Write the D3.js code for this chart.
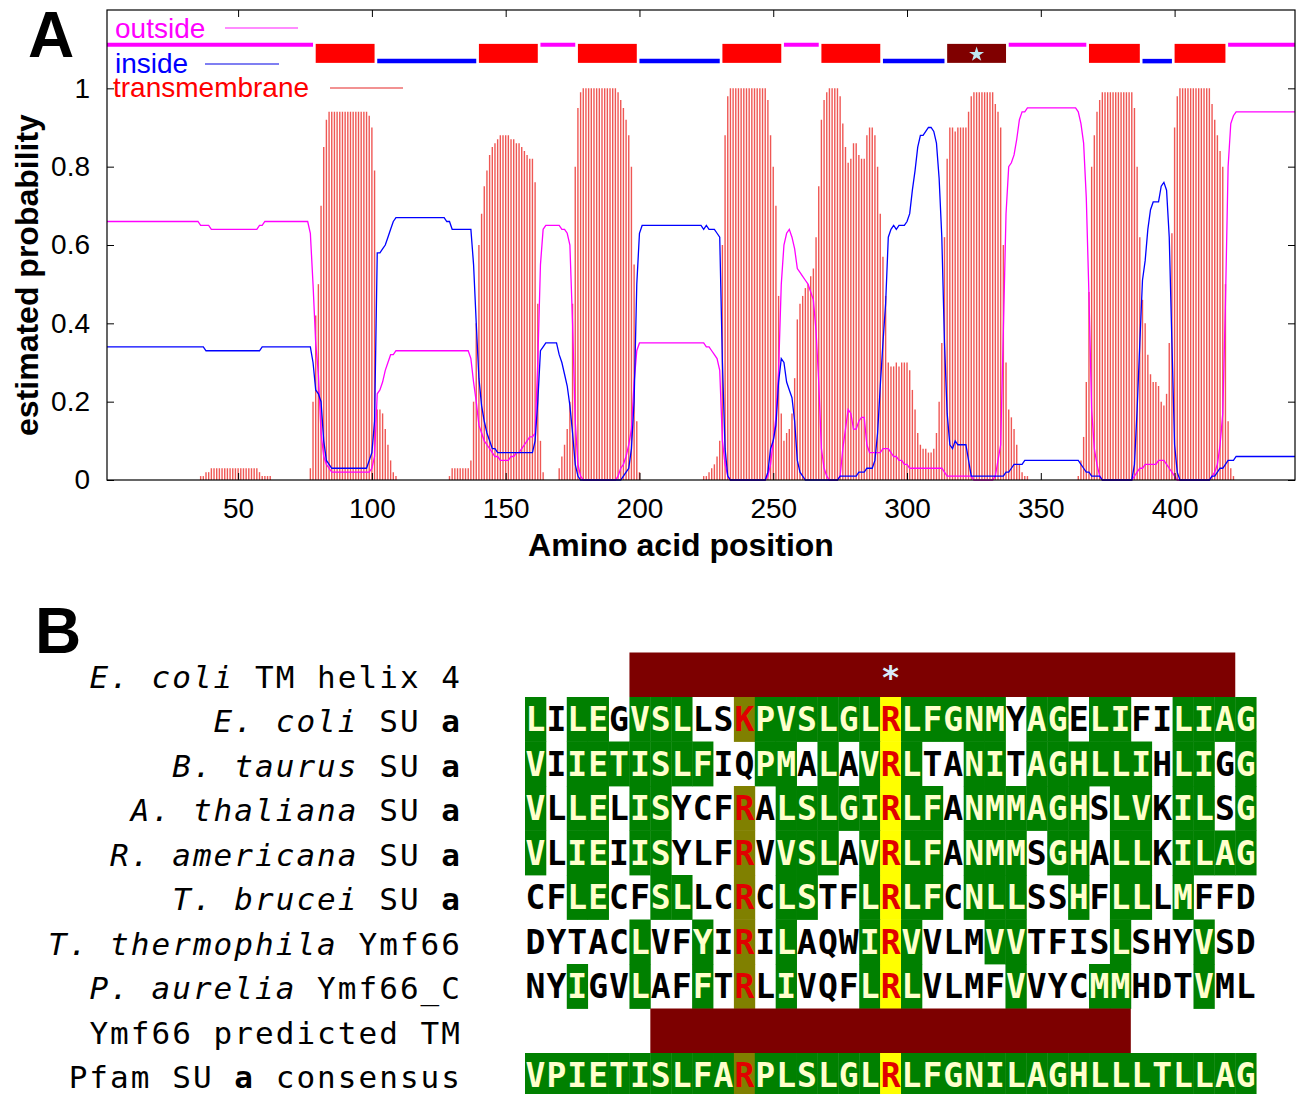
<!DOCTYPE html>
<html>
<head>
<meta charset="utf-8">
<script src="https://cdn.jsdelivr.net/npm/d3@7"></script>
<style>
  body { margin: 0; background: #fff; }
  svg { display: block; }
</style>
</head>
<body>
<div id="chart"></div>
<script>
// ── Panel A data: per-residue posterior probabilities (percent) ─────────────
const firstResidue = 1;

const tmProb = [
  0,0,0,0,0,0,0,0,0,0,          // 1-10
  0,0,0,0,0,0,0,0,0,0,
  0,0,0,0,0,0,0,0,0,0,
  0,0,0,0,0,1,1,2,2,3,
  3,3,3,3,3,3,3,3,3,3,
  3,3,3,3,3,3,3,2,1,1,          // 51-60
  1,1,0,0,0,0,0,0,0,0,
  0,0,0,0,0,0,3,20,42,50,
  70,85,92,94,94,94,94,94,94,94,
  94,94,94,94,94,94,94,94,93,90,
  79,18,18,17,13,9,5,2,1,0,     // 101-110
  0,0,0,0,0,0,0,0,0,0,
  0,0,0,0,0,0,0,0,1,3,
  3,3,3,3,3,3,5,20,40,60,
  68,75,79,83,85,86,87,88,88,88,
  88,87,87,86,86,85,84,83,82,82, // 151-160
  76,45,10,2,0,0,0,0,0,3,
  6,9,13,20,45,80,95,99,100,100,
  100,100,100,100,100,100,100,100,100,100,
  100,99,97,95,92,88,80,55,15,2,
  0,0,0,0,0,0,0,0,0,0,          // 201-210
  0,0,0,0,0,0,0,0,0,0,
  0,0,0,1,1,2,3,4,6,10,
  60,88,98,100,100,100,100,100,100,100,
  100,100,100,100,100,100,100,97,88,80,
  70,47,17,10,12,13,17,26,41,45, // 251-260
  47,49,50,52,54,62,75,92,97,99,
  100,100,100,100,98,91,85,81,82,86,
  86,83,82,82,88,90,90,88,80,68,
  57,47,30,29,29,30,29,30,30,30,
  28,23,18,12,9,8,8,7,7,8,      // 301-310
  12,20,35,62,82,90,90,89,90,90,
  90,90,94,98,99,99,99,99,99,99,
  99,99,96,94,90,60,30,18,16,13,
  9,4,2,1,1,0,0,0,0,0,
  0,0,0,0,0,0,0,0,0,0,          // 351-360
  0,0,0,1,5,11,25,48,80,88,
  94,97,99,99,99,99,99,99,99,99,
  99,99,99,99,95,80,62,46,40,32,
  27,25,25,24,20,19,22,35,63,90,
  98,100,100,100,100,100,100,100,100,100, // 401-410
  100,100,100,96,92,88,84,80,50,15,
  3,1,0,0,0,0,0,0,0,0,
  0,0,0,0,0,0,0,0,0,0,
  0,0,0,0,0
];

const outsideProb = [
  66,66,66,66,66,66,66,66,66,66,  // 1-10
  66,66,66,66,66,66,66,66,66,66,
  66,66,66,66,66,66,66,66,66,66,
  66,66,66,66,66,65,65,65,65,64,
  64,64,64,64,64,64,64,64,64,64,
  64,64,64,64,64,64,64,65,65,66,  // 51-60
  66,66,66,66,66,66,66,66,66,66,
  66,66,66,66,66,66,63,50,35,27,
  12,6,4,3,2,2,2,2,2,2,
  2,2,2,2,2,2,2,2,2,3,
  6,22,23,25,28,30,32,32,33,33,   // 101-110
  33,33,33,33,33,33,33,33,33,33,
  33,33,33,33,33,33,33,33,33,33,
  33,33,33,33,33,33,31,25,20,14,
  12,10,9,8,7,6,6,5,5,5,
  5,6,6,7,7,8,9,10,11,11,         // 151-160
  12,30,55,64,65,65,65,65,65,65,
  64,64,63,60,40,15,4,1,0,0,
  0,0,0,0,0,0,0,0,0,0,
  0,1,3,4,6,9,13,25,33,35,
  35,35,35,35,35,35,35,35,35,35,  // 201-210
  35,35,35,35,35,35,35,35,35,35,
  35,35,35,35,34,34,33,32,31,28,
  10,4,1,0,0,0,0,0,0,0,
  0,0,0,0,0,0,0,1,4,10,
  16,28,50,60,63,64,62,59,54,53,  // 251-260
  52,51,50,48,46,38,25,8,3,1,
  0,0,0,0,1,8,13,18,17,13,
  13,15,16,16,9,7,7,7,7,7,
  8,8,8,7,6,6,5,5,4,4,
  3,3,3,3,3,3,3,3,3,3,            // 301-310
  3,3,3,2,1,1,1,1,1,1,
  1,1,1,1,0,0,0,0,0,0,
  0,0,1,5,9,38,68,80,81,83,
  87,92,94,94,95,95,95,95,95,95,
  95,95,95,95,95,95,95,95,95,95,  // 351-360
  95,95,95,94,91,86,72,47,18,8,
  4,1,0,0,0,0,0,0,0,0,
  0,0,0,0,1,2,3,3,4,4,
  4,4,4,5,5,5,4,3,2,1,
  0,0,0,0,0,0,0,0,0,0,            // 401-410
  0,0,0,1,2,4,9,17,45,80,
  91,93,94,94,94,94,94,94,94,94,
  94,94,94,94,94,94,94,94,94,94,
  94,94,94,94,94
];

const insideProb = [
  34,34,34,34,34,34,34,34,34,34,  // 1-10
  34,34,34,34,34,34,34,34,34,34,
  34,34,34,34,34,34,34,34,34,34,
  34,34,34,34,34,34,34,33,33,33,
  33,33,33,33,33,33,33,33,33,33,
  33,33,33,33,33,33,33,33,34,34,  // 51-60
  34,34,34,34,34,34,34,34,34,34,
  34,34,34,34,34,34,34,30,23,22,
  20,10,5,4,3,3,3,3,3,3,
  3,3,3,3,3,3,3,3,5,7,
  15,58,58,59,60,62,64,66,67,67,  // 101-110
  67,67,67,67,67,67,67,67,67,67,
  67,67,67,67,67,67,67,66,66,64,
  64,64,64,64,64,64,64,55,40,26,
  19,15,12,10,8,8,7,7,7,7,
  7,7,7,7,7,7,7,7,7,7,            // 151-160
  10,20,33,34,35,35,35,35,35,32,
  30,27,24,19,12,4,1,0,0,0,
  0,0,0,0,0,0,0,0,0,0,
  0,0,0,1,2,3,8,20,50,63,
  65,65,65,65,65,65,65,65,65,65,  // 201-210
  65,65,65,65,65,65,65,65,65,65,
  65,65,65,64,65,64,64,64,63,62,
  30,8,1,0,0,0,0,0,0,0,
  0,0,0,0,0,0,0,2,8,10,
  14,25,31,30,25,23,21,15,5,2,    // 251-260
  1,0,0,0,0,0,0,0,0,0,
  0,0,0,0,1,1,1,1,1,1,
  1,2,2,2,3,3,3,5,12,24,
  35,45,62,64,65,64,65,65,65,66,
  68,74,79,85,88,88,89,90,90,89,  // 301-310
  86,77,62,35,17,9,8,10,9,9,
  9,9,5,1,1,1,1,1,1,1,
  1,1,1,1,1,1,2,2,3,4,
  4,4,4,5,5,5,5,5,5,5,
  5,5,5,5,5,5,5,5,5,5,            // 351-360
  5,5,5,5,4,3,2,2,1,1,
  1,1,0,0,0,0,0,0,0,0,
  0,0,0,0,4,18,35,51,56,64,
  69,71,71,71,75,76,74,62,35,9,
  2,0,0,0,0,0,0,0,0,0,            // 401-410
  0,0,0,1,1,2,3,3,4,5,
  5,5,6,6,6,6,6,6,6,6,
  6,6,6,6,6,6,6,6,6,6,
  6,6,6,6,6
];

// predicted topology: [kind, first residue, last residue]
const topology = [
  ["outside", 1, 78], ["tm", 79, 101], ["inside", 102, 139], ["tm", 140, 162],
  ["outside", 163, 176], ["tm", 177, 199], ["inside", 200, 230], ["tm", 231, 253],
  ["outside", 254, 267], ["tm", 268, 290], ["inside", 291, 314], ["tmStar", 315, 337],
  ["outside", 338, 367], ["tm", 368, 387], ["inside", 388, 399], ["tm", 400, 419],
  ["outside", 420, 445]
];

const xTicks = [50, 100, 150, 200, 250, 300, 350, 400];
const yTicks = [0, 0.2, 0.4, 0.6, 0.8, 1];
const legendLabels = ["outside", "inside", "transmembrane"];

// ── Panel B data ────────────────────────────────────────────────────────────
const rowLabels = [
  [["E. coli", "it"], [" TM helix 4", ""]],
  [["E. coli", "it"], [" SU ", ""], ["a", "b"]],
  [["B. taurus", "it"], [" SU ", ""], ["a", "b"]],
  [["A. thaliana", "it"], [" SU ", ""], ["a", "b"]],
  [["R. americana", "it"], [" SU ", ""], ["a", "b"]],
  [["T. brucei", "it"], [" SU ", ""], ["a", "b"]],
  [["T. thermophila", "it"], [" Ymf66", ""]],
  [["P. aurelia", "it"], [" Ymf66_C", ""]],
  [["Ymf66 predicted TM", ""]],
  [["Pfam SU ", ""], ["a", "b"], [" consensus", ""]]
];

const sequences = [
  null,
  "LILEGVSLLSKPVSLGLRLFGNMYAGELIFILIAG",
  "VIIETISLFIQPMALAVRLTANITAGHLLIHLIGG",
  "VLLELISYCFRALSLGIRLFANMMAGHSLVKILSG",
  "VLIEIISYLFRVVSLAVRLFANMMSGHALLKILAG",
  "CFLECFSLLCRCLSTFLRLFCNLLSSHFLLLMFFD",
  "DYTACLVFYIRILAQWIRVVLMVVTFISLSHYVSD",
  "NYIGVLAFFTRLIVQFLRLVLMFVVYCMMHDTVML",
  null,
  "VPIETISLFARPLSLGLRLFGNILAGHLLLTLLAG"
];

// g = conserved (green), w = white, o = aligned R column, y = invariant R
const shading = [
  null,
  "gwggwgggwwoggggggygggggwggwggwwgggg",
  "gwgggggggwwggwgwgygwwggwggggggwggwg",
  "gwggwggwwwowgggggyggwggggggwggwggwg",
  "gwggwggwwwowgggwgyggwgggwggwggwgggg",
  "wwggwwggwwowggwwgyggwgggwwgwggwgwww",
  "wwwwwgwwgwowgwwwgygwwwggwwwwgwwwgww",
  "wwgwwgwwgwowgwwwgygwwwwgwwwggwwwgww",
  null,
  "ggggggggggoggggggyggggggggggggggggg"
];

// TM bars: [row, first column, last column]
const helixBars = [[0, 5, 33], [8, 6, 28]];
const starColumn = 17;

// ── Setup ───────────────────────────────────────────────────────────────────
const W = 1296, H = 1094;
const sans = "'Liberation Sans', Arial, Helvetica, sans-serif";
const mono = "'DejaVu Sans Mono', monospace";

const svg = d3.select("#chart").append("svg").attr("width", W).attr("height", H);

// ── Panel A ─────────────────────────────────────────────────────────────────
const plot = { left: 107, right: 1295, top: 10, bottom: 480 };
const x = d3.scaleLinear().domain([firstResidue, firstResidue + tmProb.length - 1]).range([plot.left, plot.right]);
const y = d3.scaleLinear().domain([0, 1.2]).range([plot.bottom, plot.top]);

const residues = tmProb.map((t, i) => ({
  pos: firstResidue + i,
  tm: t / 100,
  outside: outsideProb[i] / 100,
  inside: insideProb[i] / 100
}));

const colors = { outside: "#ff00ff", inside: "#0000ff", tm: "#ff0000", tmDark: "#800000" };

const gA = svg.append("g");

// impulses
gA.append("g").selectAll("line")
  .data(residues.filter(d => d.tm > 0)).join("line")
  .attr("x1", d => x(d.pos)).attr("x2", d => x(d.pos))
  .attr("y1", y(0)).attr("y2", d => y(d.tm))
  .attr("stroke", "#ec3a36").attr("stroke-width", 1.4).attr("stroke-opacity", 0.85);

// probability curves
const curve = key => d3.line().x(d => x(d.pos)).y(d => y(d[key]));
gA.append("path").datum(residues).attr("d", curve("outside"))
  .attr("fill", "none").attr("stroke", colors.outside).attr("stroke-width", 1.3);
gA.append("path").datum(residues).attr("d", curve("inside"))
  .attr("fill", "none").attr("stroke", colors.inside).attr("stroke-width", 1.3);

// topology track
const track = gA.append("g");
topology.forEach(([kind, a, b]) => {
  if (kind === "outside") {
    track.append("line").attr("x1", x(a)).attr("x2", x(b)).attr("y1", y(1.111)).attr("y2", y(1.111))
      .attr("stroke", colors.outside).attr("stroke-width", 4);
  } else if (kind === "inside") {
    track.append("line").attr("x1", x(a)).attr("x2", x(b)).attr("y1", y(1.0695)).attr("y2", y(1.0695))
      .attr("stroke", colors.inside).attr("stroke-width", 4.5);
  } else {
    track.append("rect").attr("x", x(a)).attr("width", x(b) - x(a))
      .attr("y", y(1.1135)).attr("height", y(1.065) - y(1.1135))
      .attr("fill", kind === "tmStar" ? colors.tmDark : colors.tm);
    if (kind === "tmStar") {
      track.append("path").attr("d", d3.symbol(d3.symbolStar).size(70)())
        .attr("transform", `translate(${(x(a) + x(b)) / 2},${(y(1.1135) + y(1.065)) / 2 + 1})`)
        .attr("fill", "#bfe8f2");
    }
  }
});

// axes
const tickStyle = g => {
  g.select(".domain").remove();
  g.selectAll("line").attr("stroke", "#000");
  g.selectAll("text").attr("font-family", sans).attr("font-size", 28).attr("fill", "#000");
};
gA.append("g").attr("transform", `translate(0,${plot.bottom})`)
  .call(d3.axisBottom(x).tickValues(xTicks).tickSize(-7).tickPadding(18)).call(tickStyle);
gA.append("g").attr("transform", `translate(0,${plot.top})`)
  .call(d3.axisTop(x).tickValues(xTicks).tickSize(-7).tickFormat("")).call(tickStyle);
gA.append("g").attr("transform", `translate(${plot.left},0)`)
  .call(d3.axisLeft(y).tickValues(yTicks).tickSize(-7).tickPadding(17).tickFormat(d => String(d))).call(tickStyle);
gA.append("g").attr("transform", `translate(${plot.right},0)`)
  .call(d3.axisRight(y).tickValues(yTicks).tickSize(-7).tickFormat("")).call(tickStyle);

gA.append("rect").attr("x", plot.left).attr("y", plot.top)
  .attr("width", plot.right - plot.left).attr("height", plot.bottom - plot.top)
  .attr("fill", "none").attr("stroke", "#000").attr("stroke-width", 1.2);

gA.append("text").attr("x", 681).attr("y", 556).attr("text-anchor", "middle")
  .attr("font-family", sans).attr("font-weight", "bold").attr("font-size", 32)
  .text("Amino acid position");
gA.append("text").attr("transform", "translate(38,275) rotate(-90)").attr("text-anchor", "middle")
  .attr("font-family", sans).attr("font-weight", "bold").attr("font-size", 32)
  .text("estimated probability");

// legend
const legendLayout = [
  { tx: 115, ty: 38, x1: 225, x2: 298, ly: 28, text: colors.outside, line: "#ff66ff" },
  { tx: 115, ty: 73, x1: 205, x2: 279, ly: 64, text: colors.inside, line: "#5555ee" },
  { tx: 113, ty: 97, x1: 330, x2: 403, ly: 88, text: colors.tm, line: "#ee6e6e" }
];
legendLabels.forEach((label, i) => {
  const L = legendLayout[i];
  gA.append("text").attr("x", L.tx).attr("y", L.ty).attr("font-family", sans).attr("font-size", 28)
    .attr("fill", L.text).text(label);
  gA.append("line").attr("x1", L.x1).attr("x2", L.x2).attr("y1", L.ly).attr("y2", L.ly)
    .attr("stroke", L.line).attr("stroke-width", 1.4);
});

svg.append("text").attr("x", 28).attr("y", 57).attr("font-family", sans).attr("font-weight", "bold")
  .attr("font-size", 64).text("A");

// ── Panel B ─────────────────────────────────────────────────────────────────
svg.append("text").attr("x", 35).attr("y", 653).attr("font-family", sans).attr("font-weight", "bold")
  .attr("font-size", 64).text("B");

const colW = 20.89, colX0 = 525, rowY0 = 652.5, rowH = 44.5;
const colX = c => colX0 + c * colW;
const rowY = r => rowY0 + r * rowH;
const shadeFill = { g: "#008000", w: "#ffffff", o: "#808000", y: "#ffff00" };
const letterFill = { g: "#ffffcc", w: "#000000", o: "#e00000", y: "#e00000" };
const labelSize = 31;
const labelSpacing = 20.7 - 0.602 * labelSize;

const gB = svg.append("g");

rowLabels.forEach((parts, r) => {
  const t = gB.append("text").attr("x", 460 + labelSpacing).attr("y", rowY(r) + 35)
    .attr("text-anchor", "end").attr("font-family", mono).attr("font-size", labelSize)
    .attr("letter-spacing", labelSpacing).attr("fill", "#000").attr("xml:space", "preserve");
  parts.forEach(([s, style]) => {
    t.append("tspan").text(s)
      .attr("font-style", style === "it" ? "italic" : null)
      .attr("font-weight", style === "b" ? "bold" : null);
  });
});

sequences.forEach((seq, r) => {
  if (!seq) return;
  const cells = seq.split("").map((ch, c) => ({ ch, c, k: shading[r][c] }));
  gB.append("g").selectAll("rect").data(cells.filter(d => d.k !== "w")).join("rect")
    .attr("x", d => colX(d.c)).attr("y", rowY(r))
    .attr("width", colW + 0.4).attr("height", rowH + 0.4)
    .attr("fill", d => shadeFill[d.k]);
  gB.append("g").selectAll("text").data(cells).join("text")
    .attr("x", d => colX(d.c) + colW / 2).attr("y", rowY(r) + 34)
    .attr("text-anchor", "middle").attr("font-family", mono).attr("font-weight", "bold")
    .attr("font-size", 33).attr("fill", d => letterFill[d.k]).text(d => d.ch);
});

helixBars.forEach(([r, a, b]) => {
  gB.append("rect").attr("x", colX(a)).attr("y", rowY(r))
    .attr("width", colX(b + 1) - colX(a)).attr("height", rowH).attr("fill", "#7d0000");
});
gB.append("text").attr("x", colX(starColumn) + colW / 2).attr("y", rowY(0) + 35)
  .attr("text-anchor", "middle").attr("font-family", mono).attr("font-weight", "bold")
  .attr("font-size", 32).attr("fill", "#d8ecfa").text("*");
</script>
</body>
</html>
